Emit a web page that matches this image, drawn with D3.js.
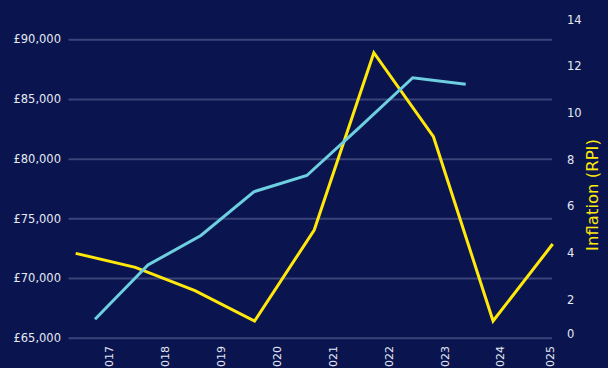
<!DOCTYPE html>
<html lang="en">
<head>
    <meta charset="UTF-8">
    <title>Salary vs Inflation</title>
    <script src="https://d3js.org/d3.v7.min.js"></script>
    <style>
        html, body {
            margin: 0;
            padding: 0;
            background: #0a1550;
            overflow: hidden;
        }
        svg text {
            font-family: "DejaVu Sans", sans-serif;
        }
        .tick text {
            fill: #e6e8f2;
            font-size: 11.5px;
        }
    </style>
</head>
<body>
    <svg id="chart" width="608" height="368"></svg>
    <script>
        // data
        let years = ["2017", "2018", "2019", "2020", "2021", "2022", "2023", "2024", "2025"]
        let salaryYears = ["2017", "2018", "2019", "2020", "2021", "2022", "2023", "2024"]
        let salary = [66540, 71090, 73560, 77230, 78590, 82650, 86780, 86230]
        let inflation = [4.0, 3.4, 2.4, 1.1, 5.0, 12.6, 9.0, 1.1, 4.4]
        let salaryTicks = [65000, 70000, 75000, 80000, 85000, 90000]
        let rpiTicks = [0, 2, 4, 6, 8, 10, 12, 14]

        let salaryColor = "#6dcfe0"
        let rpiColor = "#ffe80a"

        let svg = d3.select("#chart")
        svg.append("rect").attr("width", 608).attr("height", 368).attr("fill", "#0a1550")

        let gridLeft = 68.5, gridRight = 552

        // scales
        let yLeft = d3.scaleLinear().domain([65000, 90000]).range([337.7, 39.3])
        let yRight = d3.scaleLinear().domain([0, 14]).range([346.7, 20])
        let xSalary = d3.scalePoint().domain(salaryYears).range([95, 465.7])
        let xRpi = d3.scalePoint().domain(years).range([75.7, 552.7])
        let xLabel = d3.scalePoint().domain(years).range([109.3, 556.5])

        // left axis + gridlines
        let leftAxis = svg.append("g")
            .attr("transform", "translate(" + gridLeft + ",0)")
            .call(d3.axisLeft(yLeft)
                .tickValues(salaryTicks)
                .tickSize(-(gridRight - gridLeft))
                .tickPadding(7.5)
                .tickFormat(d => "£" + d3.format(",")(d)))
        leftAxis.select(".domain").remove()
        leftAxis.selectAll(".tick line")
            .attr("stroke", "#3a4479")
            .attr("stroke-width", 2)

        // right axis (labels only)
        let rightAxis = svg.append("g")
            .attr("transform", "translate(561,0)")
            .call(d3.axisRight(yRight).tickValues(rpiTicks).tickSize(0).tickPadding(6))
        rightAxis.select(".domain").remove()
        rightAxis.selectAll(".tick")
            .attr("transform", d => "translate(0," + Math.min(yRight(d), 334) + ")")

        svg.append("text")
            .attr("transform", "translate(598,195) rotate(-90)")
            .attr("text-anchor", "middle")
            .attr("fill", rpiColor)
            .style("font-size", "16.5px")
            .text("Inflation (RPI)")

        // x labels, rotated, cut off by the bottom edge
        svg.append("g").selectAll("text")
            .data(years)
            .join("text")
            .attr("transform", d => "translate(" + Math.min(xLabel(d), 550) + ",346) rotate(-90)")
            .attr("text-anchor", "end")
            .attr("dy", "0.35em")
            .attr("fill", "#e6e8f2")
            .style("font-size", "11px")
            .text(d => d)

        // inflation line
        let rpiLine = d3.line()
            .x((d, i) => xRpi(years[i]))
            .y(d => yRight(d))
        svg.append("path")
            .datum(inflation)
            .attr("d", rpiLine)
            .attr("fill", "none")
            .attr("stroke", rpiColor)
            .attr("stroke-width", 3)

        // salary line
        let salaryLine = d3.line()
            .x((d, i) => xSalary(salaryYears[i]))
            .y(d => yLeft(d))
        svg.append("path")
            .datum(salary)
            .attr("d", salaryLine)
            .attr("fill", "none")
            .attr("stroke", salaryColor)
            .attr("stroke-width", 3)
    </script>
</body>
</html>
